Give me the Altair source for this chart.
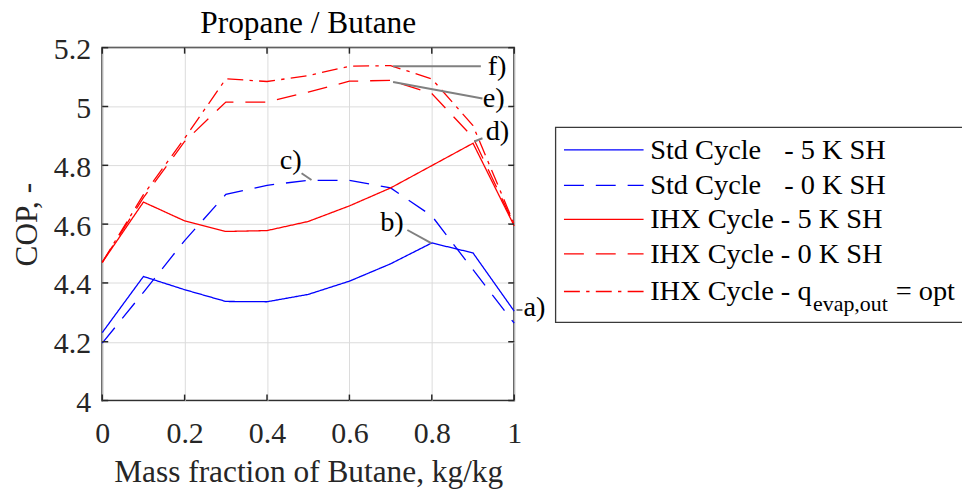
import altair as alt
import pandas as pd

# ---------------- data ----------------
x_vals = [0.0, 0.1, 0.2, 0.3, 0.4, 0.5, 0.6, 0.7, 0.8, 0.9, 1.0]
std_5k = [4.231, 4.422, 4.377, 4.337, 4.336, 4.361, 4.406, 4.465, 4.536, 4.502, 4.304]
std_0k = [4.195, 4.368, 4.544, 4.701, 4.732, 4.749, 4.749, 4.723, 4.628, 4.445, 4.263]
ihx_5k = [4.470, 4.675, 4.611, 4.575, 4.578, 4.609, 4.662, 4.723, 4.799, 4.875, 4.594]
ihx_0k = [4.470, 4.690, 4.881, 5.015, 5.015, 5.049, 5.086, 5.089, 5.044, 4.895, 4.598]
ihx_opt = [4.470, 4.700, 4.892, 5.094, 5.085, 5.105, 5.137, 5.139, 5.094, 4.935, 4.600]

series_keys = ["std5", "std0", "ihx5", "ihx0", "ihxopt"]
series_values = [std_5k, std_0k, ihx_5k, ihx_0k, ihx_opt]
legend_first = ["Std Cycle", "Std Cycle", "IHX Cycle - 5 K SH", "IHX Cycle - 0 K SH", "IHX Cycle - q"]
legend_second = ["- 5 K SH", "- 0 K SH", "", "", "= opt"]
legend_sub = ["", "", "", "", "evap,out"]

x_ticks = [0, 0.2, 0.4, 0.6, 0.8, 1]
y_ticks = [4.0, 4.2, 4.4, 4.6, 4.8, 5.0, 5.2]

title_text = "Propane / Butane"
x_title = "Mass fraction of Butane, kg/kg"
y_title = "COP, -"

ann_labels = ["a)", "b)", "c)", "d)", "e)", "f)"]
ann_text_x = [1.0225, 0.6746, 0.4307, 0.9307, 0.9234, 0.9355]
ann_text_y = [4.2875, 4.5773, 4.7863, 4.8874, 4.9986, 5.1065]
ann_x1 = [1.0056, 0.7406, 0.4838, 0.903, 0.706, 0.706]
ann_y1 = [4.308, 4.580, 4.773, 4.881, 5.083, 5.137]
ann_x2 = [1.020, 0.7986, 0.5080, 0.923, 0.923, 0.919]
ann_y2 = [4.308, 4.535, 4.750, 4.892, 5.027, 5.137]

# ---------------- styles ----------------
colors = ["#0000ff", "#0000ff", "#ff0000", "#ff0000", "#ff0000"]
dashes = [[1, 0], [20, 12], [1, 0], [20, 12], [16, 6.3, 3.4, 6.3]]
FONT = "Liberation Serif"
TXT = "#262626"
W, H = 414, 354.6

rows = []
for k, vals in zip(series_keys, series_values):
    for xv, yv in zip(x_vals, vals):
        rows.append({"x": xv, "y": yv, "s": k})
df = pd.DataFrame(rows)

xs = alt.Scale(domain=[0, 1], nice=False, zero=False)
ys = alt.Scale(domain=[4, 5.2], nice=False, zero=False)
x_axis = alt.Axis(values=x_ticks, format="~g", title=x_title, labelPadding=18,
                  labelFlush=False, labelFont=FONT, labelFontSize=30, labelColor=TXT,
                  titleFont=FONT, titleFontSize=31.5, titleColor=TXT, titleFontWeight="normal",
                  titleY=81.7, titleBaseline="alphabetic")
y_axis = alt.Axis(values=y_ticks, format="~g", title=y_title, labelPadding=11.7,
                  labelFlush=False, labelFont=FONT, labelFontSize=30, labelColor=TXT,
                  titleFont=FONT, titleFontSize=31.5, titleColor=TXT, titleFontWeight="normal",
                  labelOffset=2, titleX=-66.5, titleY=H / 2, titleAngle=270,
                  titleBaseline="alphabetic", titleAlign="center")


def X(f):
    return alt.X(f, scale=xs, axis=x_axis, title=x_title)


def Y(f):
    return alt.Y(f, scale=ys, axis=y_axis, title=y_title)


lines = alt.Chart(df).mark_line(strokeWidth=1.3).encode(
    x=X("x:Q"),
    y=Y("y:Q"),
    color=alt.Color("s:N", scale=alt.Scale(domain=series_keys, range=colors), legend=None),
    strokeDash=alt.StrokeDash("s:N", scale=alt.Scale(domain=series_keys, range=dashes), legend=None),
    detail="s:N",
)

# inward ticks on all four sides
tick_layers = [
    alt.Chart(pd.DataFrame({"yl": y_ticks})).mark_rule(color=TXT, strokeWidth=1.5).encode(
        y=Y("yl:Q"), x=alt.value(0), x2=alt.value(6)),
    alt.Chart(pd.DataFrame({"yr": y_ticks})).mark_rule(color=TXT, strokeWidth=1.5).encode(
        y=Y("yr:Q"), x=alt.value(W - 6), x2=alt.value(W)),
    alt.Chart(pd.DataFrame({"xb": x_ticks})).mark_rule(color=TXT, strokeWidth=1.5).encode(
        x=X("xb:Q"), y=alt.value(H - 6), y2=alt.value(H)),
    alt.Chart(pd.DataFrame({"xt": x_ticks})).mark_rule(color=TXT, strokeWidth=1.5).encode(
        x=X("xt:Q"), y=alt.value(0), y2=alt.value(6)),
]

# annotation leaders and labels
ann = pd.DataFrame({"label": ann_labels, "tx": ann_text_x, "ty": ann_text_y,
                    "x1": ann_x1, "y1": ann_y1, "x2": ann_x2, "y2": ann_y2})
leaders = alt.Chart(ann).mark_rule(color="#808080", strokeWidth=2).encode(
    x=X("x1:Q"), y=Y("y1:Q"), x2="x2:Q", y2="y2:Q")
ann_text = alt.Chart(ann).mark_text(font=FONT, fontSize=28.5, color="black",
                                    align="left", baseline="alphabetic").encode(
    x=X("tx:Q"), y=Y("ty:Q"), text="label:N")

# title
title = alt.Chart(pd.DataFrame({"t": [title_text]})).mark_text(
    font=FONT, fontSize=31.5, color="black", align="center", baseline="alphabetic"
).encode(x=alt.value(W / 2), y=alt.value(-14.7), text="t:N")

# manual legend
LX0 = 455.6
box = alt.Chart(pd.DataFrame({"a": [0]})).mark_rect(
    fill="white", stroke="#3a3a3a", strokeWidth=1.3
).encode(x=alt.value(LX0), x2=alt.value(LX0 + 480), y=alt.value(80), y2=alt.value(276))
legend_layers = [box]
row_y = [102.6, 138.3, 172.6, 207.3, 245.0]
for i in range(5):
    d = pd.DataFrame({"a": [legend_first[i]], "b": [legend_second[i]], "c": [legend_sub[i]],
                      "row": [i]})
    legend_layers.append(alt.Chart(d).mark_rule(
        color=colors[i], strokeDash=dashes[i], strokeWidth=1.3
    ).encode(x=alt.value(464), x2=alt.value(544), y=alt.value(row_y[i])))
    legend_layers.append(alt.Chart(d).mark_text(
        font=FONT, fontSize=28.5, color="black", align="left", baseline="alphabetic"
    ).encode(x=alt.value(550.6), y=alt.value(row_y[i] + 9), text="a:N"))
    if legend_second[i]:
        sx = 685.3 if i < 2 else 797.3
        legend_layers.append(alt.Chart(d).mark_text(
            font=FONT, fontSize=28.5, color="black", align="left", baseline="alphabetic"
        ).encode(x=alt.value(sx), y=alt.value(row_y[i] + 9), text="b:N"))
    if legend_sub[i]:
        legend_layers.append(alt.Chart(d).mark_text(
            font=FONT, fontSize=22, color="black", align="left", baseline="alphabetic"
        ).encode(x=alt.value(714.3), y=alt.value(265), text="c:N"))

chart = alt.layer(lines, *tick_layers, leaders, ann_text, title, *legend_layers).properties(
    width=W, height=H,
    autosize=alt.AutoSizeParams(type="none"),
    padding={"left": 94.7, "top": 38.7, "right": 450, "bottom": 88},
).configure_view(
    stroke=TXT, strokeWidth=1.8
).configure_axis(
    grid=True, gridColor="#dcdcdc", gridWidth=1, domain=False, ticks=False, tickSize=0,
)

chart.save("out.html", embed_options={"renderer": "svg", "actions": False})
